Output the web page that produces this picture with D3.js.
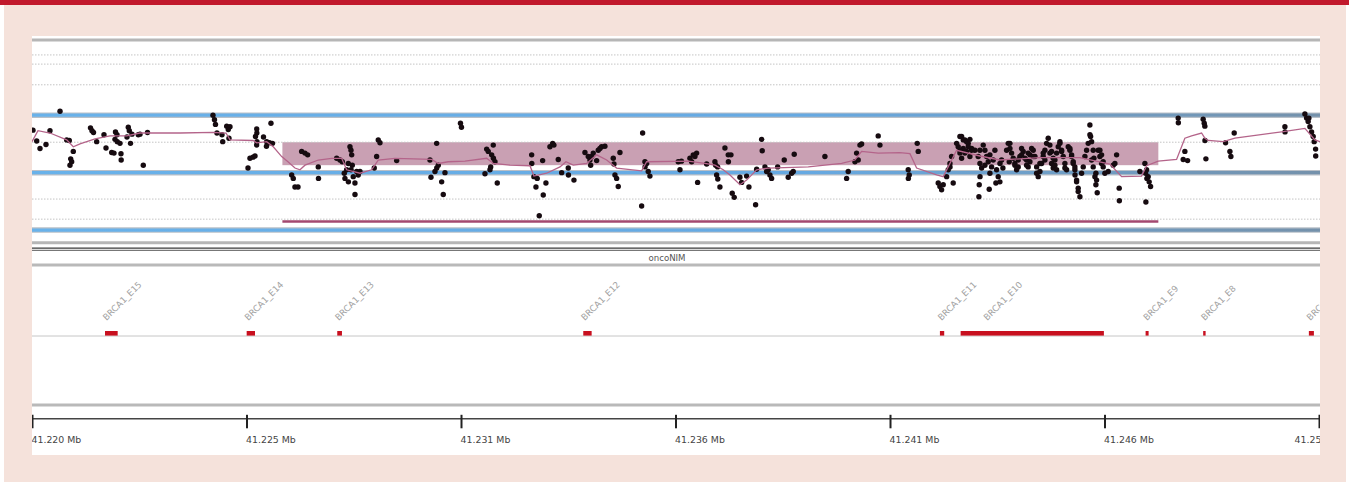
<!DOCTYPE html>
<html>
<head>
<meta charset="utf-8">
<script src="https://cdnjs.cloudflare.com/ajax/libs/d3/7.8.5/d3.min.js"></script>
<style>
body{margin:0;background:#fff;}
svg{display:block;font-family:"DejaVu Sans",Verdana,sans-serif;}
</style>
</head>
<body>
<svg></svg>
<script>
// probe positions (bp) and log2 ratios
var probePos = [41220224,41220314,41220394,41220539,41220636,41220879,41221041,41221104,41221201,41221138,41221121,41221162,
41221618,41221654,41221691,41221768,41221945,41221994,41222132,41222188,41222224,41222260,41222212,41222268,41222333,41222357,
41222362,41222534,41222559,41222503,41222588,41222624,41222777,41222818,41222898,41223000,41224587,41224624,41224648,41224684,
41224806,41224823,41224920,41225000,41224958,41224975,41225436,41225484,41225557,41225606,41225647,41225650,41225618,41225654,
41225645,41225812,41225889,41225884,41225957,41225993,41226030,41226495,41226534,41226575,41226648,41226737,41226818,41226883,
41227140,41227145,41227586,41227666,41227722,41227908,41227933,41227950,41227867,41227828,41227770,41227787,41227870,41227988,
41228029,41227935,41228071,41228109,41227964,41228030,41228151,41228497,41228594,41228636,41228555,41229040,41229848,41230010,
41230049,41230012,41229969,41229872,41230211,41230131,41230170,41230587,41230611,41231222,41231261,41231343,41231382,41231385,
41231423,41231319,41231302,41231181,41231479,41232313,41232316,41232368,41232448,41232417,41232659,41232594,41232497,41232579,
41232756,41232822,41232853,41232958,41233040,41233200,41233205,41233338,41233605,41233685,41233726,41233743,41233767,41233806,
41233888,41233927,41234009,41234089,41233968,41234291,41234308,41234332,41234373,41234412,41234453,41235003,41235059,41235100,
41235062,41235139,41235180,41234979,41235866,41235908,41235944,41236150,41236230,41236312,41236271,41236191,41236336,41236555,
41236756,41236773,41236821,41236797,41236825,41236877,41236998,41237078,41237082,41237144,41237175,41237224,41237362,41237403,
41237524,41237580,41237767,41237742,41237888,41237902,41237968,41238048,41238089,41238130,41238009,41238276,41238436,41238533,
41238615,41238678,41238654,41239422,41239948,41239987,41240150,41240190,41240229,41240271,41240312,41240714,41240756,41241442,
41241466,41241445,41241660,41241684,41242169,41242210,41242251,41242290,41242373,41242412,41242453,41242493,41242532,41242455,
41242653,41242736,41242816,41242896,41242695,41242857,41242937,41242978,41242775,41243058,41243138,41243180,41243221,41243182,
41243163,41243155,41243260,41243301,41243342,41243381,41243422,41243405,41243463,41243502,41243584,41243623,41243664,41243567,
41243666,41243705,41243827,41243907,41243948,41243987,41244028,41244069,41244108,41244149,41244190,41244229,41244311,41244350,
41244392,41244472,41244513,41244554,41244593,41244634,41244714,41244755,41244796,41244835,41244876,41244917,41244956,41244998,
41245039,41245078,41245119,41245160,41245199,41245240,41245281,41245320,41245361,41245402,41245441,41245482,41245523,41245562,
41245604,41245645,41245684,41245725,41245766,41245805,41245846,41245863,41245887,41245926,41245967,41245991,41246023,41246047,
41246088,41246129,41246168,41246209,41246290,41246411,41246493,41246452,41246556,41246560,41247058,41247179,41247220,41247259,
41247283,41247317,41247203,41247196,41247228,41247986,41247990,41248148,41248108,41248214,41248592,41248617,41248633,41248636,
41248658,41249135,41249240,41249264,41249344,41250573,41250576,41251058,41251099,41251137,41251179,41251220,41251259,41251283,
41251317,41251320,41251155,
41242615,41242695,41242775,41242857,41242937,41242896,41242978,41242816,41242697,41242736,41243866,41243907,41243890,41244028,
41244108,41244190,41244270,41244311,41244350,41244392,41244433,41244472,41244554,41244634,41244675,41244714,41244755,41244876,
41244917,41244956,41244998,41245039,41245119,41245160,41245240,41245361,41245402,41245441,41245482,41245485,41245523,41245562,
41245846,41245887,41245926,41245943,41245991,41246008,41246088,41246129,41246168,41243180,41243301,41243422,41243543,41243737]
var probeLog2 = [0.74,0.55,0.42,0.49,0.73,1.07,0.57,0.56,0.37,0.24,0.13,0.19,
0.78,0.73,0.70,0.54,0.66,0.43,0.35,0.34,0.71,0.66,0.58,0.54,0.51,0.33,
0.22,0.79,0.73,0.62,0.51,0.67,0.66,0.67,0.13,0.70,1.00,0.92,0.84,0.69,
0.66,0.54,0.81,0.80,0.75,0.60,0.08,0.25,0.27,0.29,0.76,0.69,0.63,0.54,
0.48,0.62,0.54,0.46,0.52,0.86,0.51,-0.04,-0.10,-0.25,-0.25,0.37,0.34,0.31,
0.10,-0.10,0.25,0.22,0.19,0.45,0.39,0.31,0.16,0.05,-0.01,-0.10,-0.16,-0.07,
-0.18,0.05,0.02,-0.04,0.13,-0.38,0.02,0.08,0.57,0.52,0.28,0.21,0.22,0.51,
0.13,0.08,0.02,-0.08,0.00,-0.16,-0.38,0.86,0.79,0.41,0.37,0.31,0.48,0.25,
0.19,0.10,0.05,-0.02,-0.18,0.31,0.16,-0.07,-0.10,-0.25,-0.18,-0.39,-0.75,0.21,
0.45,0.51,0.48,0.23,0.00,0.08,-0.04,-0.13,0.35,0.28,0.22,0.13,0.28,0.34,
0.21,0.39,0.45,0.46,0.42,0.25,0.15,-0.04,-0.10,-0.24,0.35,0.69,0.19,0.16,
0.10,0.02,-0.06,-0.58,0.19,0.05,0.20,0.25,0.31,0.34,0.28,0.19,-0.17,0.15,
0.19,0.13,0.10,-0.04,-0.11,-0.25,0.43,0.31,0.19,0.31,-0.36,-0.43,-0.08,-0.17,
-0.06,-0.25,0.06,-0.56,0.58,0.38,0.10,0.05,-0.04,-0.10,0.02,0.10,0.22,-0.08,
-0.01,0.32,0.02,0.28,-0.10,0.02,0.19,0.34,0.22,0.48,0.50,0.64,0.48,0.05,
-0.04,-0.10,0.51,0.37,-0.18,-0.24,-0.30,-0.21,-0.07,0.05,0.16,0.28,-0.18,0.10,
0.45,0.63,0.57,0.51,0.34,0.37,0.28,0.42,0.42,0.39,0.28,0.16,0.08,-0.07,
-0.21,-0.42,0.48,0.39,0.28,0.19,-0.01,-0.29,0.10,0.22,0.05,-0.07,-0.16,-0.18,
0.16,0.22,0.39,0.51,0.34,0.25,0.16,0.05,0.10,0.28,0.42,0.37,0.22,0.10,
0.31,0.39,0.28,-0.01,-0.07,0.16,0.28,0.39,0.51,0.60,0.34,0.16,0.08,0.22,
0.34,0.45,0.54,0.37,0.28,0.16,0.05,0.45,0.39,0.28,0.16,0.05,-0.13,-0.33,
-0.42,-0.01,0.10,0.28,0.39,0.51,0.83,0.63,0.22,0.10,-0.07,-0.21,-0.35,0.39,
0.28,0.16,0.10,-0.01,0.02,0.13,0.31,0.16,-0.27,-0.49,0.02,0.16,0.05,-0.07,
-0.16,-0.24,-0.51,-0.01,-0.10,0.95,0.87,0.37,0.23,0.21,0.93,0.86,0.81,0.56,
0.24,0.52,0.37,0.28,0.69,0.80,0.71,1.02,0.95,0.89,0.80,0.71,0.63,0.54,
0.41,0.29,0.95,
0.51,0.63,0.57,0.54,0.58,0.45,0.39,0.34,0.39,0.25,0.51,0.42,0.19,0.13,
0.22,0.31,0.25,0.13,0.34,0.19,0.42,0.28,0.10,0.02,0.16,0.34,0.22,0.48,
0.37,0.25,0.13,0.05,0.51,0.39,0.08,0.42,0.31,0.19,0.10,-0.04,-0.16,-0.27,
0.66,0.54,0.39,0.25,-0.01,-0.13,0.39,0.31,0.19,0.39,0.13,0.31,0.39,0.08]

// smoothed segment line
var segPos = [41220200,41220345,41220636,41221041,41221201,41221364,41221727,41222091,41222496,41222818,41223788,41224595,
41224903,41225000,41225557,41225647,41225889,41226049,41226253,41226405,41226575,41226696,41226818,41227140,41227465,41227707,
41227828,41228151,41228434,41228594,41228999,41229889,41230049,41230291,41230696,41231222,41231382,41231787,41232272,41232368,
41232676,41232999,41233144,41233321,41233646,41233888,41234131,41234373,41234979,41235100,41236109,41236514,41236756,41236957,
41237120,41237362,41237524,41237767,41238048,41239018,41239827,41240150,41240312,41240714,41241240,41241483,41241645,41242130,
41242290,41242615,41243180,41243664,41244634,41245604,41246331,41246615,41247099,41247220,41247502,41247947,41248148,41248311,
41248553,41248633,41248714,41249077,41249361,41250493,41251058,41251300,41251424]
var segLog2 = [0.54,0.73,0.69,0.57,0.45,0.50,0.59,0.64,0.64,0.69,0.69,0.70,
0.69,0.57,0.56,0.52,0.54,0.45,0.28,0.19,0.08,0.05,0.13,0.22,0.25,0.25,
0.05,-0.01,0.05,0.22,0.25,0.23,0.16,0.19,0.20,0.25,0.16,0.13,0.12,-0.06,
-0.01,0.10,0.19,0.13,0.16,0.31,0.22,0.08,0.03,0.19,0.20,0.16,0.13,0.05,
-0.04,-0.21,-0.13,0.05,0.08,0.10,0.16,0.22,0.37,0.34,0.35,0.33,0.08,-0.04,
-0.07,0.39,0.29,0.22,0.26,0.26,0.15,-0.07,-0.06,0.12,0.20,0.23,0.60,0.64,
0.69,0.60,0.56,0.54,0.60,0.71,0.77,0.57,0.54]

// called gain region
var callStart = 41226270, callEnd = 41247505
var callLow = 0.13, callHigh = 0.53, callMark = -0.85

// reference lines (log2)
var dottedLevels = [2.05, 1.89, 1.53, 0.53, -0.46, -0.81]
var blueLevels = [1, 0, -1]

// exons
var exonNames = ["BRCA1_E15","BRCA1_E14","BRCA1_E13","BRCA1_E12","BRCA1_E11","BRCA1_E10","BRCA1_E9","BRCA1_E8","BRCA1_E7"]
var exonStart = [41221970,41225404,41227600,41233564,41242210,41242712,41247196,41248592,41251154]
var exonEnd   = [41222277,41225606,41227714,41233767,41242314,41246185,41247269,41248651,41251276]

// axis
var tickPositions = [41220200,41225400,41230600,41235800,41241000,41246200,41251400]
var tickLabels = ["41.220 Mb","41.225 Mb","41.231 Mb","41.236 Mb","41.241 Mb","41.246 Mb","41.251 Mb"]

var trackName = "oncoNIM"

var drawChart = function()
{
  var screen = {width:1349, height:482}
  var panel = {left:32, right:1320, top:36, bottom:455}

  var svg = d3.select("svg")
              .attr("width", screen.width)
              .attr("height", screen.height)

  // page background
  svg.append("rect").attr("x",4).attr("y",0).attr("width",screen.width-7).attr("height",screen.height).attr("fill","#f5e2db")
  svg.append("rect").attr("x",0).attr("y",0).attr("width",screen.width).attr("height",5).attr("fill","#c1192c")
  svg.append("rect").attr("x",panel.left).attr("y",panel.top)
     .attr("width",panel.right-panel.left).attr("height",panel.bottom-panel.top).attr("fill","#fff")

  var defs = svg.append("defs")
  defs.append("clipPath").attr("id","clip").append("rect")
      .attr("x",panel.left).attr("y",panel.top)
      .attr("width",panel.right-panel.left).attr("height",panel.bottom-panel.top)
  var grad = defs.append("linearGradient").attr("id","blue")
      .attr("gradientUnits","userSpaceOnUse").attr("x1",panel.left).attr("x2",panel.right).attr("y1",0).attr("y2",0)
  grad.append("stop").attr("offset","0%").attr("stop-color","#69b2ea")
  grad.append("stop").attr("offset","60%").attr("stop-color","#66a9e2")
  grad.append("stop").attr("offset","78%").attr("stop-color","#6f9fc8")
  grad.append("stop").attr("offset","100%").attr("stop-color","#7491ab")

  var g = svg.append("g").attr("clip-path","url(#clip)")

  var xScale = d3.scaleLinear()
                 .domain([41220200, 41251424])
                 .range([panel.left, panel.right])

  var yScale = d3.scaleLinear()
                 .domain([-1.22, 2.31])
                 .range([242.7, 40])

  var hline = function(sel, y, color, w){
    return sel.append("line").attr("x1",panel.left).attr("x2",panel.right)
              .attr("y1",y).attr("y2",y).attr("stroke",color).attr("stroke-width",w)
  }

  // track frame
  yScale.domain().forEach(function(d){ hline(g, yScale(d), "#b6b6b6", 3) })

  // called region box
  g.append("rect")
   .attr("x", xScale(callStart))
   .attr("width", xScale(callEnd) - xScale(callStart))
   .attr("y", yScale(callHigh))
   .attr("height", yScale(callLow) - yScale(callHigh))
   .attr("fill", "#c9a0b3")

  dottedLevels.forEach(function(d){
    hline(g, yScale(d), "#c4c4c4", 1).attr("stroke-dasharray","1.5,1.5")
  })

  blueLevels.forEach(function(d){
    hline(g, yScale(d), "#b9c0c8", 5.5)
    hline(g, yScale(d), "url(#blue)", 3.2)
  })

  g.append("line")
   .attr("x1", xScale(callStart)).attr("x2", xScale(callEnd))
   .attr("y1", yScale(callMark)).attr("y2", yScale(callMark))
   .attr("stroke", "#a3486f").attr("stroke-width", 2.4)

  // probes
  g.selectAll("circle.probe")
   .data(probePos)
   .enter()
   .append("circle")
   .attr("class","probe")
   .attr("cx", function(d){ return xScale(d) })
   .attr("cy", function(d,i){ return yScale(probeLog2[i]) })
   .attr("r", 2.7)
   .attr("fill", "#160b10")

  var line = d3.line()
               .x(function(d){ return xScale(d) })
               .y(function(d,i){ return yScale(segLog2[i]) })

  g.append("path")
   .datum(segPos)
   .attr("d", line)
   .attr("fill","none")
   .attr("stroke","#b4648a")
   .attr("stroke-width",1.3)

  // track separator + name
  hline(g, 248.2, "#3a3a3a", 1.2)
  hline(g, 250.4, "#777", 1.2)
  g.append("text").attr("x", 667).attr("y", 261)
   .attr("text-anchor","middle").attr("font-size","8.6px").attr("fill","#555")
   .text(trackName)
  hline(g, 265, "#b9b9b9", 3)

  // exon track
  var exonY = 336
  hline(g, exonY, "#c6c6c6", 1)
  g.selectAll("rect.exon")
   .data(exonStart)
   .enter()
   .append("rect")
   .attr("class","exon")
   .attr("x", function(d){ return xScale(d) })
   .attr("width", function(d,i){ return Math.max(2, xScale(exonEnd[i]) - xScale(d)) })
   .attr("y", exonY - 5)
   .attr("height", 4.6)
   .attr("fill", "#c8101f")

  var prevEnd = -1e9
  exonNames.forEach(function(name, i){
    var t = g.append("text")
             .attr("font-size","8.8px").attr("fill","#a2a2a2")
             .text(name)
    var len = t.node().getComputedTextLength() * Math.SQRT1_2
    var lx = Math.max(xScale(exonStart[i]) + 1.5, prevEnd + 10)
    prevEnd = lx + len
    t.attr("transform","translate(" + lx + "," + (exonY - 15) + ") rotate(-45)")
  })

  hline(g, 405, "#b9b9b9", 3)

  // axis
  var xAxis = d3.axisBottom(xScale)
                .tickValues(tickPositions)
                .tickFormat(function(d,i){ return tickLabels[i] })
                .tickSize(10)
                .tickSizeOuter(0)

  var ax = g.append("g").classed("xAxis",true)
            .attr("transform","translate(0,418.3)")
            .call(xAxis)
  ax.select(".domain").attr("stroke","#444").attr("stroke-width",1.4)
  ax.selectAll(".tick line").attr("y1",-3.5).attr("stroke","#222").attr("stroke-width",2)
  ax.selectAll(".tick text")
    .attr("text-anchor","start").attr("x",-1).attr("y",24.5).attr("dy",null)
    .attr("font-family","DejaVu Sans, Verdana, sans-serif")
    .attr("font-size","9.4px").attr("fill","#444")
    .each(function(d){
      // labels that would run past the panel are centred on their tick
      var w = this.getComputedTextLength()
      if (xScale(d) + w > panel.right) d3.select(this).attr("text-anchor","middle").attr("x",0)
    })
}

drawChart()
</script>
</body>
</html>
